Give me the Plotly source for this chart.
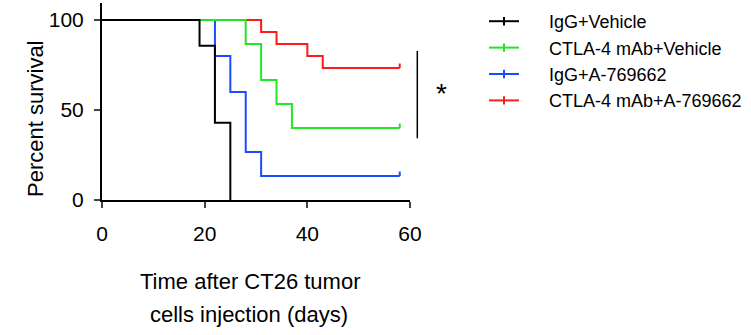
import plotly.graph_objects as go

# Kaplan-Meier step data (days, percent survival)
groups = ["IgG+Vehicle", "CTLA-4 mAb+Vehicle", "IgG+A-769662", "CTLA-4 mAb+A-769662"]
colors = ["#000000", "#22e622", "#1a4dff", "#ff1a1a"]

t_igg_veh = [0, 19, 22, 25]
s_igg_veh = [100, 85.7, 42.9, 0]

t_ctla_veh = [0, 28, 31, 34, 37, 58]
s_ctla_veh = [100, 86.7, 66.7, 53.3, 40, 40]

t_igg_a = [0, 22, 25, 28, 31, 58]
s_igg_a = [100, 80, 60, 26.7, 13.3, 13.3]

t_ctla_a = [0, 31, 34, 40, 43, 58]
s_ctla_a = [100, 93.3, 86.7, 80, 73.3, 73.3]

censored = [False, True, True, True]   # censor tick at end of follow-up

x_ticks = [0, 20, 40, 60]
y_ticks = [0, 50, 100]

series = [(t_igg_veh, s_igg_veh), (t_ctla_veh, s_ctla_veh), (t_igg_a, s_igg_a), (t_ctla_a, s_ctla_a)]

FONT = "Liberation Sans, Arial, sans-serif"
TICK_H = 2.5
PAD = "\u00a0" * 5   # gap between legend symbol and label

fig = go.Figure()
# draw red first so black ends up on top
for i in reversed(range(4)):
    t, s = series[i]
    fig.add_trace(go.Scatter(x=t, y=s, mode="lines", line=dict(color=colors[i], width=2, shape="hv"),
                             showlegend=False, cliponaxis=False, hoverinfo="skip"))
    if censored[i]:
        fig.add_trace(go.Scatter(x=[t[-1], t[-1]], y=[s[-1], s[-1] + TICK_H], mode="lines",
                                 line=dict(color=colors[i], width=2), showlegend=False,
                                 cliponaxis=False, hoverinfo="skip"))
# legend entries
for i in reversed(range(4)):
    fig.add_trace(go.Scatter(x=[None], y=[None], mode="lines+markers", name=PAD + groups[i],
                             line=dict(color=colors[i], width=2),
                             marker=dict(symbol="line-ns", size=6, line=dict(color=colors[i], width=2))))

L, R, T, B = 102, 341, 3, 135
W, H = 751, 335
pw = W - L - R
ph = H - T - B

def px(xp):
    return (xp - L) / pw

def py(yp):
    return (H - B - yp) / ph

fig.update_layout(
    width=W, height=H,
    margin=dict(l=L, r=R, t=T, b=B, pad=0),
    paper_bgcolor="white", plot_bgcolor="white",
    font=dict(family=FONT, color="black"),
    showlegend=True,
    legend=dict(x=px(484), y=1.0, xanchor="left", yanchor="top", traceorder="reversed",
                font=dict(size=18, family=FONT), itemwidth=30, bgcolor="rgba(0,0,0,0)"),
    xaxis=dict(range=[0, 60], tickvals=x_ticks, ticks="outside", ticklen=6, tickwidth=2,
               showline=True, linewidth=2, linecolor="black", showgrid=False, zeroline=False,
               tickfont=dict(size=21, family=FONT), ticklabelstandoff=8),
    yaxis=dict(range=[0, 109.4], tickvals=y_ticks, ticks="outside", ticklen=6, tickwidth=2,
               showline=True, linewidth=2, linecolor="black", showgrid=False, zeroline=False,
               tickfont=dict(size=21, family=FONT), ticklabelstandoff=6),
)

annots = [
    dict(text="Percent survival", x=px(35.5), y=py(118.5), textangle=-90, font=dict(size=22)),
    dict(text="Time after CT26 tumor", x=px(249.5), y=py(281), font=dict(size=22)),
    dict(text="cells injection (days)", x=px(249), y=py(314), font=dict(size=22)),
    dict(text="*", x=px(441.7), y=py(93), font=dict(size=28)),
]
for a in annots:
    fig.add_annotation(xref="paper", yref="paper", showarrow=False, xanchor="center", yanchor="middle",
                       font_family=FONT, font_color="black", **{k: v for k, v in a.items()})

fig.add_shape(type="line", xref="paper", yref="paper", x0=px(417.3), x1=px(417.3),
              y0=py(51), y1=py(138.3), line=dict(color="black", width=1.5))

fig.write_html("out.html")
